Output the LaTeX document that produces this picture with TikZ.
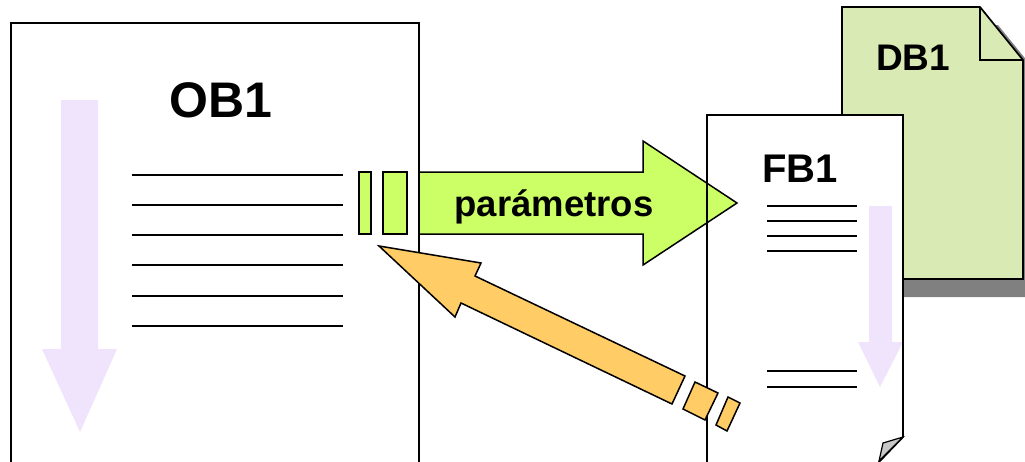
\documentclass[tikz,border=0pt]{standalone}
\usepackage{fontspec}
\setmainfont{Liberation Sans}
\definecolor{lav}{RGB}{240,228,252}
\definecolor{lime}{RGB}{204,255,102}
\definecolor{orng}{RGB}{255,204,102}
\definecolor{dbgreen}{RGB}{217,234,180}
\definecolor{shadowgray}{RGB}{128,128,128}
\definecolor{foldgray}{RGB}{200,200,200}
\tikzset{
  pageborder/.style={draw=black, line width=1.7pt, line join=miter},
  textline/.style={draw=black, line width=1.9pt},
  flowarrow/.style={fill=lav, draw=none},
  limeshape/.style={fill=lime, draw=black, line width=1.5pt, line join=miter},
  orangeshape/.style={fill=orng, draw=black, line width=1.5pt, line join=miter},
  bigtitle/.style={font=\fontsize{50}{50}\selectfont\bfseries, inner sep=0pt, anchor=base},
}
\begin{document}
\begin{tikzpicture}[x=1pt,y=-1pt]
\useasboundingbox (0,0) rectangle (1025,461);
\clip (0,0) rectangle (1025,461);
% ---- DB1 ----
\fill[shadowgray] (860,297) -- (860,25) -- (998,25) -- (1041,78) -- (1041,297) -- cycle;
\draw[pageborder, fill=dbgreen] (842,279) -- (842,7) -- (980,7) -- (1023,60) -- (1023,279) -- cycle;
\draw[pageborder] (980,7) -- (980,60) -- (1023,60);
\node[bigtitle, font=\fontsize{37}{37}\selectfont\bfseries] (db1) at (913,70) {DB1};
% ---- FB1 ----
\fill[white] (707,475) -- (707,115) -- (903,115) -- (903,437) -- (879,462) -- cycle;
\fill[flowarrow] (869,206) -- (892,206) -- (892,342) -- (903,342) -- (880,387) -- (858,342) -- (869,342) -- cycle;
\foreach \yy in {206,221,236,251,371,387} \draw[textline] (767,\yy) -- (857,\yy);
\node[bigtitle, font=\fontsize{40}{40}\selectfont\bfseries] (fb1) at (800,182) {FB1};
% ---- OB1 ----
\draw[pageborder, fill=white] (11,475) -- (11,23) -- (419,23) -- (419,475);
\fill[flowarrow] (61,100) -- (98,100) -- (98,349) -- (117,349) -- (80,432) -- (42,349) -- (61,349) -- cycle;
\foreach \yy in {175,205,235,265,296,326} \draw[textline] (132,\yy) -- (343,\yy);
\node[bigtitle] (ob1) at (221,117) {OB1};
% ---- green arrow (parametros) ----
\draw[limeshape] (359,172) rectangle (371,234);
\draw[limeshape] (383,172) rectangle (407,234);
\draw[limeshape] (419,172) -- (643,172) -- (643,141) -- (737,203) -- (643,265) -- (643,234) -- (419,234) -- cycle;
\node[font=\fontsize{36.5}{36.5}\selectfont\bfseries, inner sep=0pt, anchor=base] (par) at (554,216) {parámetros};
% FB1 border on top
\draw[pageborder] (707,475) -- (707,115) -- (903,115) -- (903,437) -- (879,462);
\draw[pageborder, line width=1.2pt, fill=foldgray] (903,437) -- (883,443) -- (879,461) -- cycle;
% ---- orange return arrow ----
\draw[orangeshape] (379,246) -- (481,263) -- (475,276) -- (685,376) -- (672,404) -- (461,303) -- (455,317) -- cycle;
\draw[orangeshape] (695,382) -- (718,393) -- (705,420) -- (683,409) -- cycle;
\draw[orangeshape] (728,397) -- (740,403) -- (727,431) -- (716,425) -- cycle;
\end{tikzpicture}
\end{document}
